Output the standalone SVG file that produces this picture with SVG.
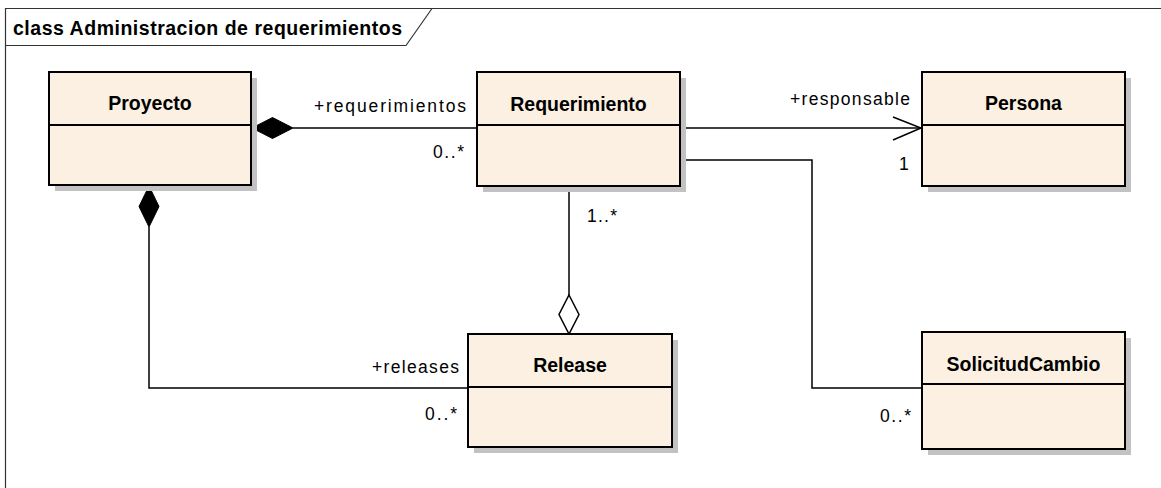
<svg xmlns="http://www.w3.org/2000/svg" width="1161" height="488" viewBox="0 0 1161 488">
  <style>
    .frame { fill: none; stroke: #333333; stroke-width: 1.2; }
    .shadow { fill: #c2c2c2; stroke: none; }
    .box { fill: #fbf0e2; stroke: #000000; stroke-width: 2; }
    .div { stroke: #000000; stroke-width: 2; }
    .name { font-family: "Liberation Sans", Arial, sans-serif; font-weight: bold; font-size: 19.5px; fill: #000000; text-anchor: middle; }
    .title { font-family: "Liberation Sans", Arial, sans-serif; font-weight: bold; font-size: 19.5px; fill: #000000; }
    .lbl { font-family: "Liberation Sans", Arial, sans-serif; font-size: 17.5px; fill: #000000; }
    .conn { fill: none; stroke: #000000; stroke-width: 1.5; }
    .filled { fill: #000000; stroke: #000000; stroke-width: 1; }
    .hollow { fill: #ffffff; stroke: #000000; stroke-width: 1.5; }
  </style>

  <rect x="0" y="0" width="1161" height="488" fill="#ffffff"/>

  <!-- diagram frame with name tab -->
  <g id="frame">
    <path class="frame" d="M5.5,488 V8.5 H1161"/>
    <path class="frame" d="M5.5,45.5 H406 L432,8.5"/>
    <text class="title" x="13" y="35" textLength="389" lengthAdjust="spacing">class Administracion de requerimientos</text>
  </g>

  <!-- associations -->
  <g id="connectors">
    <!-- Proyecto <>- Requerimiento -->
    <line class="conn" x1="293" y1="128" x2="477" y2="128"/>
    <path class="filled" d="M252,128 L272.5,117.5 L293,128 L272.5,138.5 Z"/>
    <!-- Requerimiento -> Persona -->
    <line class="conn" x1="680" y1="128" x2="921" y2="128"/>
    <path class="conn" d="M893,117 L921,128 L893,140"/>
    <!-- Requerimiento - SolicitudCambio -->
    <path class="conn" d="M680,160 H812 V388 H922"/>
    <!-- Release <>- Requerimiento -->
    <line class="conn" x1="569" y1="186" x2="569" y2="295"/>
    <path class="hollow" d="M569,295 L579,314.5 L569,334 L559,314.5 Z"/>
    <!-- Proyecto <>- Release -->
    <path class="conn" d="M149,227 V388 H468"/>
    <path class="filled" d="M149,186 L159,206.5 L149,227 L139,206.5 Z"/>

    <text class="lbl" x="314" y="112" textLength="152" lengthAdjust="spacing">+requerimientos</text>
    <text class="lbl" x="433" y="158" textLength="31" lengthAdjust="spacing">0..*</text>
    <text class="lbl" x="790" y="105" textLength="120" lengthAdjust="spacing">+responsable</text>
    <text class="lbl" x="899" y="170">1</text>
    <text class="lbl" x="587" y="222" textLength="30" lengthAdjust="spacing">1..*</text>
    <text class="lbl" x="372" y="373" textLength="87" lengthAdjust="spacing">+releases</text>
    <text class="lbl" x="425" y="420" textLength="32" lengthAdjust="spacing">0..*</text>
    <text class="lbl" x="880" y="422" textLength="31" lengthAdjust="spacing">0..*</text>
  </g>

  <g id="proyecto">
    <rect class="shadow" x="55" y="78" width="202" height="113"/>
    <rect class="box" x="49" y="72" width="202" height="113"/>
    <line class="div" x1="49" y1="125" x2="251" y2="125"/>
    <text class="name" x="150" y="110">Proyecto</text>
  </g>

  <g id="requerimiento">
    <rect class="shadow" x="483" y="78" width="203" height="114"/>
    <rect class="box" x="477" y="72" width="203" height="114"/>
    <line class="div" x1="477" y1="125" x2="680" y2="125"/>
    <text class="name" x="578.5" y="110.5">Requerimiento</text>
  </g>

  <g id="persona">
    <rect class="shadow" x="928" y="78" width="203" height="114"/>
    <rect class="box" x="922" y="72" width="203" height="114"/>
    <line class="div" x1="922" y1="125" x2="1125" y2="125"/>
    <text class="name" x="1023.5" y="110">Persona</text>
  </g>

  <g id="release">
    <rect class="shadow" x="474" y="340" width="204" height="113"/>
    <rect class="box" x="468" y="334" width="204" height="113"/>
    <line class="div" x1="468" y1="387" x2="672" y2="387"/>
    <text class="name" x="570" y="371.5">Release</text>
  </g>

  <g id="solicitudcambio">
    <rect class="shadow" x="928" y="338" width="203" height="117"/>
    <rect class="box" x="922" y="332" width="203" height="117"/>
    <line class="div" x1="922" y1="384" x2="1125" y2="384"/>
    <text class="name" x="1023.5" y="370.5">SolicitudCambio</text>
  </g>
</svg>
